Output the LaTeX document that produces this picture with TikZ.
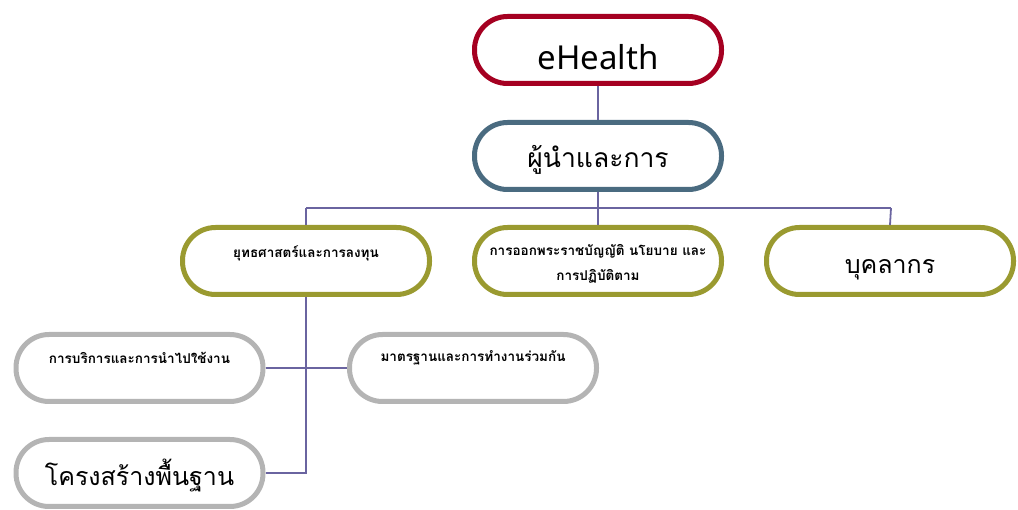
\documentclass[tikz,border=0pt]{standalone}
\usepackage{fontspec}
\setmainfont{Noto Sans}
\newfontfamily\thai[Script=Thai]{Loma}
\definecolor{cRed}{HTML}{A50021}
\definecolor{cSlate}{HTML}{4A6B80}
\definecolor{cOlive}{HTML}{9A9A30}
\definecolor{cGray}{HTML}{B4B4B4}
\definecolor{cLine}{HTML}{6A64A0}
\begin{document}
\begin{tikzpicture}[x=1pt,y=-1pt,
  pill/.style={draw, fill=white, line width=5pt, rounded corners=33pt,
    minimum width=247pt, minimum height=67pt, inner sep=0pt},
  conn/.style={draw=cLine, line width=1.8pt},
  big/.style={font=\fontsize{26.5}{32}\selectfont\thai},
  small/.style={font=\fontsize{13.5}{25}\selectfont\thai\bfseries, align=center}]
\useasboundingbox (0,0) rectangle (1018,510);
% boxes
\node[pill, draw=cRed]   (eh)  at (598,50)  {};
\node[pill, draw=cSlate] (lead) at (598,156) {};
\node[pill, draw=cOlive] (strat) at (306,261) {};
\node[pill, draw=cOlive] (law)  at (598,261) {};
\node[pill, draw=cOlive] (hr)   at (890,261) {};
\node[pill, draw=cGray]  (serv) at (139.5,368) {};
\node[pill, draw=cGray]  (std)  at (473,368) {};
\node[pill, draw=cGray]  (infra) at (139.5,473) {};
% connectors
\coordinate (bus) at (598,208);
\coordinate (busL) at (306,208);
\coordinate (busR) at (891,208);
\coordinate (j2) at (306,473);
\draw[conn] (eh.south) -- (lead.north);
\draw[conn] (lead.south) -- (bus);
\draw[conn] (busL) -- (busR);
\draw[conn] (busL) -- (strat.north);
\draw[conn] (bus) -- (law.north);
\draw[conn] (busR) -- (hr.north);
\draw[conn] (strat.south) -- (j2) -- (infra.east);
\draw[conn] (serv.east) -- (std.west);
% texts
\node[font=\fontsize{33}{38}\selectfont] (teh) at ([yshift=-7]eh.center) {eHealth};
\node[big] (tlead) at ([yshift=-4]lead.center) {ผู้นำและการ};
\node[small] (tstrat) at ([yshift=8]strat.center) {ยุทธศาสตร์และการลงทุน};
\node[small] (tlaw) at ([yshift=-3]law.center) {การออกพระราชบัญญัติ นโยบาย และ\\การปฏิบัติตาม};
\node[font=\fontsize{25}{30}\selectfont\thai] (thr) at ([yshift=-9]hr.center) {บุคลากร};
\node[small] (tserv) at ([yshift=10]serv.center) {การบริการและการนำไปใช้งาน};
\node[small] (tstd) at ([yshift=10]std.center) {มาตรฐานและการทำงานร่วมกัน};
\node[font=\fontsize{25}{30}\selectfont\thai] (tinfra) at ([yshift=-3]infra.center) {โครงสร้างพื้นฐาน};
\end{tikzpicture}
\end{document}
